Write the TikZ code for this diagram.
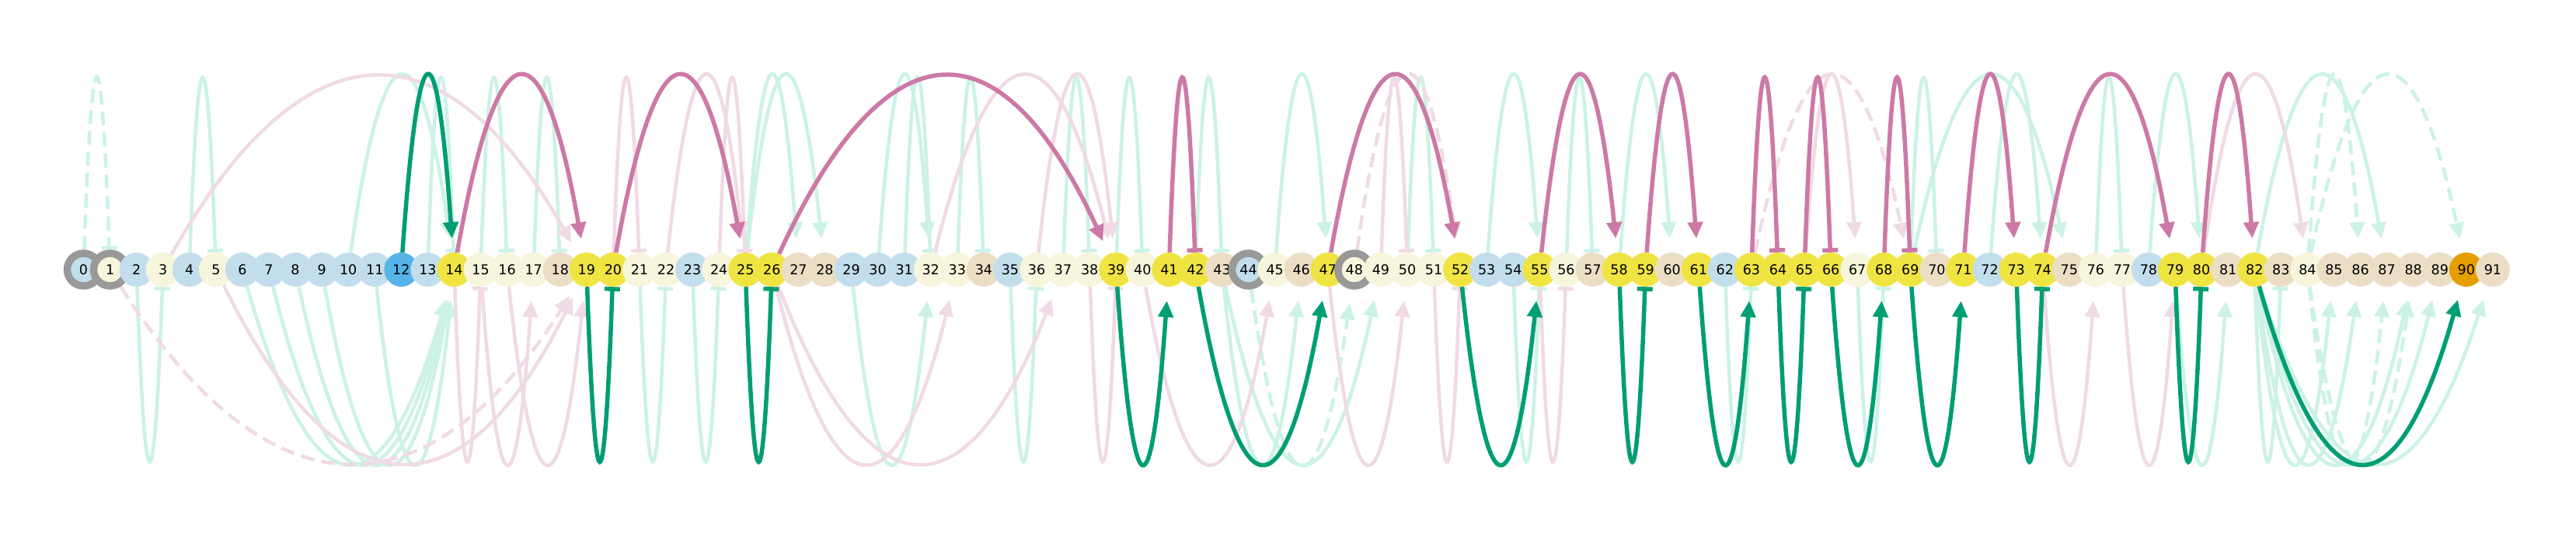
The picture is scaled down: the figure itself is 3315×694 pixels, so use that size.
\documentclass[tikz,border=0pt]{standalone}
\usepackage{fontspec}
\setmainfont{DejaVu Sans}
\usetikzlibrary{arrows.meta,calc}
\definecolor{cfg}{HTML}{CCF2E6}
\definecolor{cfp}{HTML}{F0DAE5}
\definecolor{cG}{HTML}{009E73}
\definecolor{cP}{HTML}{CC79A7}
\definecolor{clb}{HTML}{C2DEEC}
\definecolor{cly}{HTML}{F7F5DC}
\definecolor{ctn}{HTML}{EBDEC4}
\definecolor{cyl}{HTML}{F0E442}
\definecolor{csb}{HTML}{56B4E9}
\definecolor{cor}{HTML}{E69F00}
\definecolor{cgr}{HTML}{999999}
\pgfdeclarelayer{arcs}
\pgfsetlayers{arcs,main}
\newcommand\arcU[3]{\draw[#1] (n#2) .. controls ($(n#2)!1/3!(n#3)+(0,-322)$) and ($(n#2)!2/3!(n#3)+(0,-322)$) .. (n#3);}
\newcommand\arcD[3]{\draw[#1] (n#2) .. controls ($(n#2)!1/3!(n#3)+(0,322)$) and ($(n#2)!2/3!(n#3)+(0,322)$) .. (n#3);}
\tikzset{
  nd/.style={circle,inner sep=0pt,minimum size=44pt,font=\fontsize{17.5}{18}\selectfont,text=black},
  ring0/.style={},
  ring1/.style={draw=cgr,line width=9.5pt,minimum size=42pt},
  fg/.style={draw=cfg,line width=4.5pt},
  fp/.style={draw=cfp,line width=4.5pt},
  bG/.style={draw=cG,line width=5.5pt},
  bP/.style={draw=cP,line width=5.5pt},
  ar/.style={-{Triangle[length=21pt,width=19pt]},shorten >=18pt},
  te/.style={-{Bar[width=20pt]}},
  dsh/.style={dash pattern=on 18pt off 9pt},
}
\begin{document}
\begin{tikzpicture}[x=1pt,y=-1pt,line cap=round]
\useasboundingbox (0,0) rectangle (3315,694);
\foreach \c/\r [count=\i from 0] in {lb/1,ly/1,lb/0,ly/0,lb/0,ly/0,lb/0,lb/0,lb/0,lb/0,
  lb/0,lb/0,sb/0,lb/0,yl/0,ly/0,ly/0,ly/0,tn/0,yl/0,
  yl/0,ly/0,ly/0,lb/0,ly/0,yl/0,yl/0,tn/0,tn/0,lb/0,
  lb/0,lb/0,ly/0,ly/0,tn/0,lb/0,ly/0,ly/0,ly/0,yl/0,
  ly/0,yl/0,yl/0,tn/0,lb/1,ly/0,tn/0,yl/0,ly/1,ly/0,
  ly/0,ly/0,yl/0,lb/0,lb/0,yl/0,ly/0,tn/0,yl/0,yl/0,
  tn/0,yl/0,lb/0,yl/0,yl/0,yl/0,yl/0,ly/0,yl/0,yl/0,
  tn/0,yl/0,lb/0,yl/0,yl/0,tn/0,ly/0,ly/0,lb/0,yl/0,
  yl/0,tn/0,yl/0,tn/0,ly/0,tn/0,tn/0,tn/0,tn/0,tn/0,
  or/0,tn/0}
  {\node[nd,fill=c\c,ring\r] (n\i) at ({107.5+34.07*\i},347) {\i};}
\begin{pgfonlayer}{arcs}
% faded green, above
\arcU{fg,dsh,te}{0}{1}
\arcU{fg,te}{4}{5}
\arcU{fg,ar}{10}{14}
\arcU{fg,te}{13}{14}
\arcU{fg,te}{15}{16}
\arcU{fg,te}{17}{18}
\arcU{fg,ar}{25}{27}
\arcU{fg,ar}{25}{28}
\arcU{fg,ar}{30}{32}
\arcU{fg,te}{31}{32}
\arcU{fg,te}{33}{34}
\arcU{fg,te}{37}{38}
\arcU{fg,te}{39}{40}
\arcU{fg,te}{42}{43}
\arcU{fg,ar}{45}{47}
\arcU{fg,te}{50}{51}
\arcU{fg,ar}{53}{55}
\arcU{fg,te}{56}{57}
\arcU{fg,ar}{58}{60}
\arcU{fg,te}{69}{70}
\arcU{fg,ar}{69}{75}
\arcU{fg,ar}{72}{74}
\arcU{fg,te}{76}{77}
\arcU{fg,ar}{78}{80}
\arcU{fg,ar}{82}{87}
\arcU{fg,dsh,ar}{84}{86}
\arcU{fg,dsh,ar}{84}{90}
% faded pink, above
\arcU{fp,ar}{3}{19}
\arcU{fp,te}{20}{21}
\arcU{fp,ar}{22}{25}
\arcU{fp,te}{24}{25}
\arcU{fp,ar}{32}{39}
\arcU{fp,ar}{36}{39}
\arcU{fp,dsh,ar}{48}{52}
\arcU{fp,te}{49}{50}
\arcU{fp,dsh,ar}{63}{69}
\arcU{fp,ar}{65}{67}
\arcU{fp,ar}{80}{84}
% faded green, below
\arcD{fg,te}{2}{3}
\arcD{fg,ar}{6}{14}
\arcD{fg,ar}{7}{14}
\arcD{fg,ar}{8}{14}
\arcD{fg,ar}{9}{14}
\arcD{fg,ar}{11}{14}
\arcD{fg,te}{21}{22}
\arcD{fg,te}{23}{24}
\arcD{fg,ar}{29}{32}
\arcD{fg,te}{35}{36}
\arcD{fg,ar}{43}{46}
\arcD{fg,dsh,ar}{44}{48}
\arcD{fg,ar}{43}{49}
\arcD{fg,te}{54}{55}
\arcD{fg,te}{62}{63}
\arcD{fg,te}{67}{68}
\arcD{fg,ar}{79}{81}
\arcD{fg,te}{82}{83}
\arcD{fg,ar}{82}{85}
\arcD{fg,ar}{82}{86}
\arcD{fg,ar}{82}{88}
\arcD{fg,ar}{82}{89}
\arcD{fg,ar}{82}{91}
\arcD{fg,dsh,ar}{84}{87}
\arcD{fg,dsh,ar}{84}{88}
% faded pink, below
\arcD{fp,dsh,ar}{1}{19}
\arcD{fp,ar}{5}{19}
\arcD{fp,te}{14}{15}
\arcD{fp,ar}{15}{17}
\arcD{fp,ar}{16}{19}
\arcD{fp,ar}{26}{33}
\arcD{fp,ar}{26}{37}
\arcD{fp,te}{38}{39}
\arcD{fp,ar}{40}{45}
\arcD{fp,ar}{47}{50}
\arcD{fp,te}{51}{52}
\arcD{fp,te}{55}{56}
\arcD{fp,ar}{74}{76}
\arcD{fp,ar}{77}{79}
% bold
\arcU{bG,ar}{12}{14}
\arcU{bP,ar}{14}{19}
\arcU{bP,ar}{20}{25}
\arcU{bP,ar}{26}{39}
\arcU{bP,te}{41}{42}
\arcU{bP,ar}{47}{52}
\arcU{bP,ar}{55}{58}
\arcU{bP,ar}{59}{61}
\arcU{bP,te}{63}{64}
\arcU{bP,te}{65}{66}
\arcU{bP,te}{68}{69}
\arcU{bP,ar}{71}{73}
\arcU{bP,ar}{74}{79}
\arcU{bP,ar}{80}{82}
\arcD{bG,te}{19}{20}
\arcD{bG,te}{25}{26}
\arcD{bG,ar}{39}{41}
\arcD{bG,ar}{42}{47}
\arcD{bG,ar}{52}{55}
\arcD{bG,te}{58}{59}
\arcD{bG,ar}{61}{63}
\arcD{bG,te}{64}{65}
\arcD{bG,ar}{66}{68}
\arcD{bG,ar}{69}{71}
\arcD{bG,te}{73}{74}
\arcD{bG,te}{79}{80}
\arcD{bG,ar}{82}{90}
\end{pgfonlayer}
\end{tikzpicture}
\end{document}
